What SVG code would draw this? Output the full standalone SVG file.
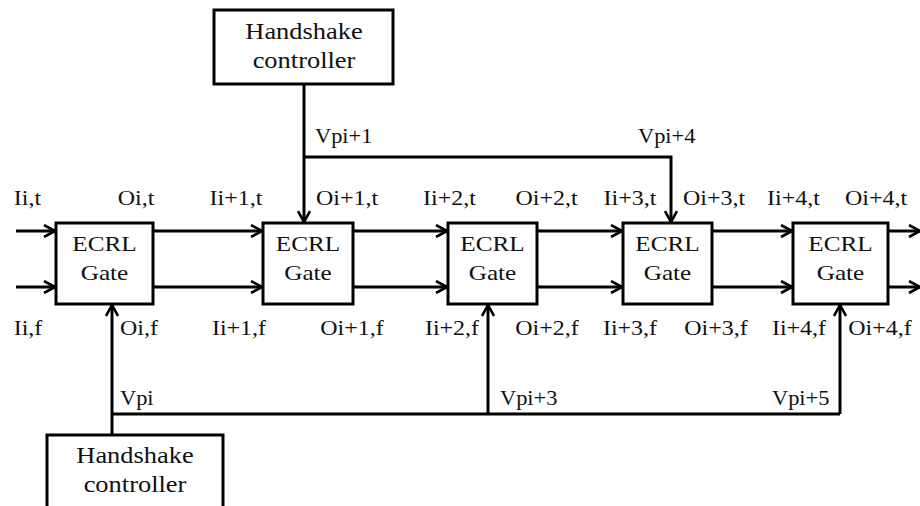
<svg xmlns="http://www.w3.org/2000/svg" width="920" height="506" viewBox="0 0 920 506" font-family="Liberation Serif, DejaVu Serif, serif">
<style>
  .box{fill:#fff;stroke:#000;stroke-width:3}
  .w{fill:none;stroke:#000;stroke-width:3}
  .a{fill:none;stroke:#000;stroke-width:3;marker-end:url(#ah)}
  .t{fill:#111}
  .lb{font-size:20px;text-anchor:middle}
  .ls{font-size:20px;text-anchor:start}
  .g{font-size:21px;text-anchor:middle}
  .h{font-size:23px;text-anchor:middle}
</style>
<defs>
  <marker id="ah" markerUnits="userSpaceOnUse" viewBox="0 0 14 14" refX="12" refY="7" markerWidth="14" markerHeight="14" orient="auto">
    <path d="M1,1 L12,7 L1,13" fill="none" stroke="#000" stroke-width="2.6"/>
  </marker>
</defs>
<rect width="920" height="506" fill="#fff"/>

<g id="connectors">
  <line class="a" x1="16" y1="231" x2="55" y2="231"/>
  <line class="a" x1="16" y1="287" x2="55" y2="287"/>
  <line class="a" x1="153" y1="231" x2="262" y2="231"/>
  <line class="a" x1="153" y1="287" x2="262" y2="287"/>
  <line class="a" x1="353" y1="231" x2="447" y2="231"/>
  <line class="a" x1="353" y1="287" x2="447" y2="287"/>
  <line class="a" x1="537" y1="231" x2="622" y2="231"/>
  <line class="a" x1="537" y1="287" x2="622" y2="287"/>
  <line class="a" x1="712" y1="231" x2="792" y2="231"/>
  <line class="a" x1="712" y1="287" x2="792" y2="287"/>
  <line class="a" x1="888" y1="231" x2="920" y2="231"/>
  <line class="a" x1="888" y1="287" x2="920" y2="287"/>
  <line class="a" x1="304" y1="84" x2="304" y2="222"/>
  <polyline class="a" points="304,157 671,157 671,222"/>
  <line class="a" x1="112" y1="435" x2="112" y2="305"/>
  <polyline class="w" points="112,414 840,414"/>
  <line class="a" x1="488" y1="414" x2="488" y2="305"/>
  <line class="a" x1="840" y1="414" x2="840" y2="305"/>
</g>

<g id="hs-top">
  <rect class="box" x="214" y="10" width="179" height="74"/>
  <text class="t h" transform="translate(304 39) scale(1.15 1)">Handshake</text>
  <text class="t h" transform="translate(304 68) scale(1.15 1)">controller</text>
</g>
<g id="hs-bottom">
  <rect class="box" x="47" y="435" width="176" height="90"/>
  <text class="t h" transform="translate(135 463) scale(1.15 1)">Handshake</text>
  <text class="t h" transform="translate(135 492) scale(1.15 1)">controller</text>
</g>

<g id="gate1">
  <rect class="box" x="56" y="223" width="97" height="81"/>
  <text class="t g" transform="translate(104.5 251) scale(1.2 1)">ECRL</text>
  <text class="t g" transform="translate(104.5 280) scale(1.2 1)">Gate</text>
</g>
<g id="gate2">
  <rect class="box" x="263" y="223" width="90" height="81"/>
  <text class="t g" transform="translate(308 251) scale(1.2 1)">ECRL</text>
  <text class="t g" transform="translate(308 280) scale(1.2 1)">Gate</text>
</g>
<g id="gate3">
  <rect class="box" x="448" y="223" width="89" height="81"/>
  <text class="t g" transform="translate(492.5 251) scale(1.2 1)">ECRL</text>
  <text class="t g" transform="translate(492.5 280) scale(1.2 1)">Gate</text>
</g>
<g id="gate4">
  <rect class="box" x="623" y="223" width="89" height="81"/>
  <text class="t g" transform="translate(667.5 251) scale(1.2 1)">ECRL</text>
  <text class="t g" transform="translate(667.5 280) scale(1.2 1)">Gate</text>
</g>
<g id="gate5">
  <rect class="box" x="793" y="223" width="95" height="81"/>
  <text class="t g" transform="translate(840.5 251) scale(1.2 1)">ECRL</text>
  <text class="t g" transform="translate(840.5 280) scale(1.2 1)">Gate</text>
</g>

<g id="labels" class="t">
  <text class="lb" transform="translate(27.5 205) scale(1.2 1)">Ii,t</text>
  <text class="lb" transform="translate(136 205) scale(1.2 1)">Oi,t</text>
  <text class="lb" transform="translate(236 205) scale(1.2 1)">Ii+1,t</text>
  <text class="lb" transform="translate(347 205) scale(1.2 1)">Oi+1,t</text>
  <text class="lb" transform="translate(449.5 205) scale(1.2 1)">Ii+2,t</text>
  <text class="lb" transform="translate(546.5 205) scale(1.2 1)">Oi+2,t</text>
  <text class="lb" transform="translate(630 205) scale(1.2 1)">Ii+3,t</text>
  <text class="lb" transform="translate(714 205) scale(1.2 1)">Oi+3,t</text>
  <text class="lb" transform="translate(793.5 205) scale(1.2 1)">Ii+4,t</text>
  <text class="lb" transform="translate(876 205) scale(1.2 1)">Oi+4,t</text>

  <text class="lb" transform="translate(28 335) scale(1.2 1)">Ii,f</text>
  <text class="lb" transform="translate(139 335) scale(1.2 1)">Oi,f</text>
  <text class="lb" transform="translate(239 335) scale(1.2 1)">Ii+1,f</text>
  <text class="lb" transform="translate(352 335) scale(1.2 1)">Oi+1,f</text>
  <text class="lb" transform="translate(452 335) scale(1.2 1)">Ii+2,f</text>
  <text class="lb" transform="translate(547 335) scale(1.2 1)">Oi+2,f</text>
  <text class="lb" transform="translate(630 335) scale(1.2 1)">Ii+3,f</text>
  <text class="lb" transform="translate(716 335) scale(1.2 1)">Oi+3,f</text>
  <text class="lb" transform="translate(799 335) scale(1.2 1)">Ii+4,f</text>
  <text class="lb" transform="translate(880 335) scale(1.2 1)">Oi+4,f</text>

  <text class="ls" transform="translate(315 143) scale(1.12 1)">Vpi+1</text>
  <text class="ls" transform="translate(638 143) scale(1.12 1)">Vpi+4</text>
  <text class="ls" transform="translate(120 405) scale(1.12 1)">Vpi</text>
  <text class="ls" transform="translate(500 405) scale(1.12 1)">Vpi+3</text>
  <text class="ls" transform="translate(772 405) scale(1.12 1)">Vpi+5</text>
</g>
</svg>
